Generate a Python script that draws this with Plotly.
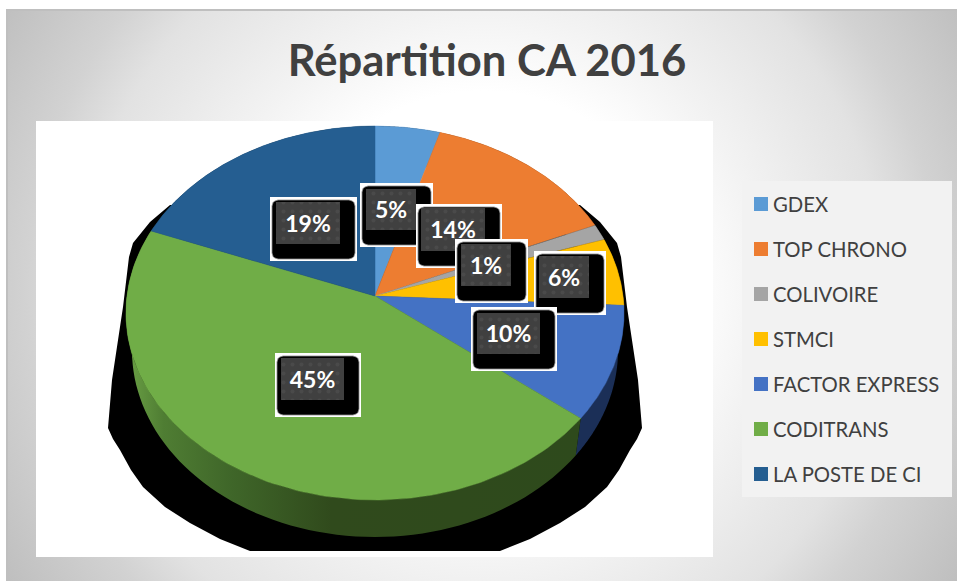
import base64
import numpy as np
import plotly.graph_objects as go

categories = ["GDEX", "TOP CHRONO", "COLIVOIRE", "STMCI", "FACTOR EXPRESS", "CODITRANS", "LA POSTE DE CI"]
values = [4.6, 13.9, 1.4, 5.9, 9.9, 45.2, 19.1]
pct_labels = ["5%", "14%", "1%", "6%", "10%", "45%", "19%"]
colors = ["#5b9bd5", "#ed7d31", "#a5a5a5", "#ffc000", "#4472c4", "#70ad47", "#255e91"]
wall_colors = ["#2e4d6a", "#763e18", "#525252", "#7f6000", "#1b2f57", "#2e4a1c", "#132f48"]

# Chart geometry (pixel-scaled axes)
CX, CY, RX, RY, K, DEPTH = 375, 296, 248, 185.45, 0.0909, 37
W, H = 957, 581


def project(theta, xs=1.0, dy=0.0):
    u, v = np.sin(theta), np.cos(theta)
    w = 1 + K * v
    return CX + xs * RX * u / w, CY + dy - RY * v / w


def rounded(x0, y0, x1, y1, r):
    xs, ys = [], []
    for cx, cy, a in [(x1 - r, y0 + r, -90), (x1 - r, y1 - r, 0), (x0 + r, y1 - r, 90), (x0 + r, y0 + r, 180)]:
        t = np.radians(np.linspace(a, a + 90, 6))
        xs += list(cx + r * np.cos(t))
        ys += list(cy + r * np.sin(t))
    return xs + xs[:1], ys + ys[:1]


svg = (
    f'<svg xmlns="http://www.w3.org/2000/svg" width="{W}" height="{H}" preserveAspectRatio="none">'
    '<defs><radialGradient id="g" gradientUnits="userSpaceOnUse" cx="480" cy="285" r="560">'
    '<stop offset="0" stop-color="#ffffff"/><stop offset="0.36" stop-color="#ffffff"/>'
    '<stop offset="0.5" stop-color="#f3f3f3"/><stop offset="0.72" stop-color="#e2e2e2"/>'
    '<stop offset="0.82" stop-color="#d2d2d2"/><stop offset="1" stop-color="#bfbfbf"/>'
    '</radialGradient></defs>'
    f'<rect width="{W}" height="{H}" fill="url(#g)"/></svg>'
)
bg_uri = "data:image/svg+xml;base64," + base64.b64encode(svg.encode()).decode()

fig = go.Figure()

# Black cast shadow behind the pie (left silhouette, mirrored about x=375)
shadow_left_x = [170, 150, 133, 129, 123, 112, 108, 113, 120, 131, 143, 165, 190, 220, 250]
shadow_left_y = [205, 222, 243, 257, 307, 380, 428, 439, 450, 470, 487, 507, 523, 539, 551]
sx = shadow_left_x + [750 - v for v in shadow_left_x[::-1]]
sy = shadow_left_y + shadow_left_y[::-1]
fig.add_trace(go.Scatter(x=sx + sx[:1], y=sy + sy[:1], mode="none", fill="toself", fillcolor="#000000",
                         showlegend=False, hoverinfo="skip"))

edges = 2 * np.pi * np.cumsum([0] + values) / sum(values)

# Side walls
for i, name in enumerate(categories):
    th = np.linspace(edges[i], edges[i + 1], 80)
    x0, y0 = project(th)
    x1, y1 = project(th[::-1], xs=0.976, dy=DEPTH)
    kw = dict(fillcolor=wall_colors[i])
    if name == "CODITRANS":
        kw = dict(fillgradient=dict(type="horizontal", start=127, stop=582, colorscale=[
            [0, "#6aa045"], [0.08, "#4f7d33"], [0.23, "#3f6629"], [0.45, "#304a1c"], [1, "#2e4a1c"]]))
    fig.add_trace(go.Scatter(x=list(x0) + list(x1), y=list(y0) + list(y1), mode="none", fill="toself",
                             showlegend=False, hoverinfo="skip", **kw))

# Top surface
for i, name in enumerate(categories):
    th = np.linspace(edges[i], edges[i + 1], 120)
    x0, y0 = project(th)
    fig.add_trace(go.Scatter(x=[CX] + list(x0) + [CX], y=[CY] + list(y0) + [CY], mode="lines",
                             line=dict(color=colors[i], width=0.5), fill="toself", fillcolor=colors[i],
                             showlegend=False, hoverinfo="skip", name=name, legendgroup=name))

# Data labels: white box, black rounded box, dotted inner box, text
box_order = [6, 5, 0, 1, 2, 3, 4]
white_boxes = {6: (270, 197, 357, 261), 0: (360, 183, 433, 247), 1: (416, 204, 502, 268), 2: (455, 239, 528, 303),
               3: (534, 251, 606, 315), 4: (471, 307, 557, 371), 5: (275, 353, 361, 417)}
inner_boxes = {6: (276, 202, 340, 244), 0: (366, 189, 416, 230), 1: (421, 208, 485, 251), 2: (461, 244, 511, 286),
               3: (539, 256, 589, 298), 4: (477, 313, 540, 354), 5: (281, 358, 344, 400)}
for i in box_order:
    x0, y0, x1, y1 = white_boxes[i]
    fig.add_trace(go.Scatter(x=[x0, x1, x1, x0, x0], y=[y0, y0, y1, y1, y0], mode="none", fill="toself",
                             fillcolor="#ffffff", showlegend=False, hoverinfo="skip"))
    bx, by = rounded(x0 + 2, y0 + 3, x1 - 2, y1 - 2, 6)
    fig.add_trace(go.Scatter(x=bx, y=by, mode="lines", line=dict(color="#8a8a8a", width=0.8), fill="toself",
                             fillcolor="#000000", showlegend=False, hoverinfo="skip"))
    ix0, iy0, ix1, iy1 = inner_boxes[i]
    fig.add_trace(go.Scatter(x=[ix0, ix1, ix1, ix0, ix0], y=[iy0, iy0, iy1, iy1, iy0], mode="none", fill="toself",
                             fillcolor="#404040",
                             fillpattern=dict(shape=".", bgcolor="#404040", fgcolor="#545454", size=9, solidity=0.15),
                             showlegend=False, hoverinfo="skip"))
    fig.add_trace(go.Scatter(x=[(ix0 + ix1) / 2], y=[(iy0 + iy1) / 2 + 3], mode="text", text=[pct_labels[i]],
                             textposition="middle center",
                             textfont=dict(family="Lato", size=23, color="#ffffff", weight="bold"),
                             showlegend=False, hoverinfo="skip"))

# Legend swatches drawn full height under the native legend keys
fig.add_trace(go.Scatter(x=[761] * len(categories), y=[204 + 45 * i for i in range(len(categories))],
                         mode="markers", marker=dict(symbol="square", size=14, color=colors),
                         showlegend=False, hoverinfo="skip"))

# Legend entries
for i, name in enumerate(categories):
    fig.add_trace(go.Scatter(x=[None], y=[None], mode="lines", name=name, legendgroup=name,
                             line=dict(color=colors[i], width=14, dash="0px,16px,14px,100px")))

fig.update_layout(
    width=W, height=H, autosize=False,
    margin=dict(l=0, r=0, t=0, b=0),
    paper_bgcolor="#ffffff", plot_bgcolor="rgba(0,0,0,0)",
    xaxis=dict(range=[0, W], visible=False, fixedrange=True),
    yaxis=dict(range=[H, 0], visible=False, fixedrange=True),
    title=dict(text="<b>Répartition CA 2016</b>", x=487 / W, xanchor="center", xref="paper",
               y=1 - 61 / H, yanchor="middle", yref="paper",
               font=dict(family="Lato", size=43.6, color="#404040")),
    legend=dict(x=733 / W, xanchor="left", y=1 - 184 / H, yanchor="top", bgcolor="rgba(0,0,0,0)",
                font=dict(family="Lato", size=20.3, color="#404040"), tracegroupgap=15.61,
                traceorder="grouped"),
    images=[dict(source=bg_uri, xref="x", yref="y", x=6, y=9, sizex=951, sizey=572, sizing="stretch",
                 xanchor="left", yanchor="top", layer="below")],
    shapes=[
        dict(type="line", x0=6, x1=957, y0=10, y1=10, line=dict(color="#bfbfbf", width=2), layer="between"),
        dict(type="line", x0=7, x1=7, y0=9, y1=581, line=dict(color="#bfbfbf", width=2), layer="between"),
        dict(type="rect", x0=36, x1=713, y0=121, y1=557, fillcolor="#ffffff", line=dict(width=0), layer="between"),
        dict(type="rect", x0=742, x1=952, y0=181, y1=497, fillcolor="#f2f2f2", line=dict(width=0), layer="between"),
    ],
)
fig.write_html("out.html", config=dict(displayModeBar=False), post_script="document.body.style.margin='0';")
